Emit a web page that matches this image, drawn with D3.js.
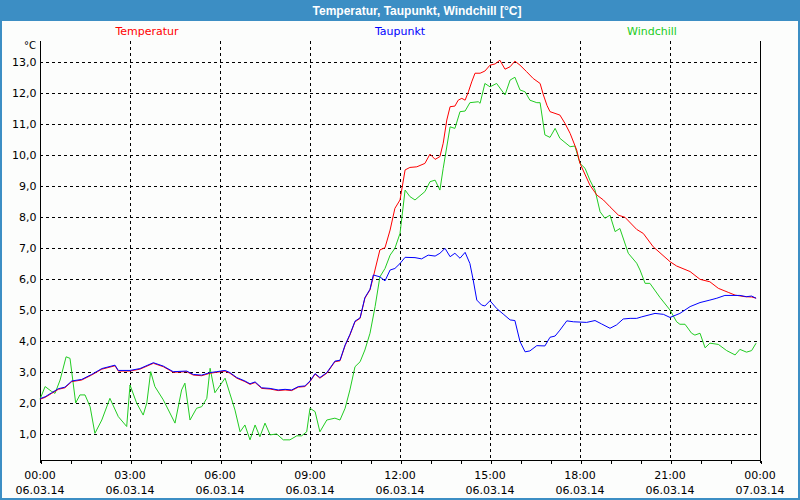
<!DOCTYPE html>
<html><head><meta charset="utf-8">
<script src="https://cdn.jsdelivr.net/npm/d3@7"></script>
<style>body{margin:0;background:#fff}svg{display:block}</style>
</head><body>
<svg id="c" width="800" height="500"></svg>
<script>
const chartTitle = "Temperatur, Taupunkt, Windchill [°C]";
const seriesNames = ["Temperatur", "Taupunkt", "Windchill"];
const seriesColors = ["#ff0000", "#0000ff", "#22cc22"];
const yTicks = [1,2,3,4,5,6,7,8,9,10,11,12,13];
const xTickHours = [0,3,6,9,12,15,18,21,24];

// hours since 06.03.14 00:00
const tempHours = [0,0.17,0.39,0.61,0.83,1.06,1.39,1.72,2.06,2.5,2.61,3,3.33,3.78,4.11,4.44,4.89,5.11,5.39,5.67,5.89,6.17,6.33,6.56,6.83,7,7.17,7.39,7.67,7.94,8.17,8.39,8.61,8.83,9,9.17,9.33,9.56,9.83,10,10.17,10.33,10.5,10.67,10.83,11,
 11.11,11.33,11.5,11.67,11.83,12,12.17,12.33,12.56,12.83,13,13.17,13.33,13.44,13.56,13.67,13.83,13.94,14.06,14.17,14.28,14.39,14.5,14.67,14.83,15,15.17,15.33,15.5,15.67,15.83,16,16.22,16.44,16.67,16.78,16.9,17,17.33,17.5,17.67,17.89,18,18.33,18.56,18.78,19,19.28,19.5,19.89,20.11,20.44,21,21.22,21.67,22,22.33,22.61,22.94,23.17,23.5,23.72,23.87];
const tempValues = [2.12,2.18,2.31,2.44,2.49,2.69,2.74,2.9,3.09,3.2,3.03,3.03,3.09,3.28,3.17,2.99,3.01,2.9,2.88,2.96,2.99,3.03,2.96,2.8,2.69,2.6,2.66,2.47,2.45,2.4,2.42,2.4,2.51,2.53,2.69,2.93,2.8,2.96,3.33,3.36,3.85,4.19,4.62,4.73,5.38,5.65,
 6.07,6.94,7.01,7.58,8.28,8.55,9.52,9.6,9.62,9.73,10.03,9.86,9.95,10.38,11.13,11.56,11.58,11.77,11.83,11.77,12.04,12.36,12.64,12.64,12.71,12.9,12.94,13.06,12.77,12.85,13.03,12.9,12.69,12.47,12.31,11.94,11.6,11.4,11.29,11.02,10.7,10.16,9.73,9.03,8.71,8.55,8.33,8.06,7.99,7.6,7.47,7.04,6.56,6.42,6.24,5.99,5.91,5.7,5.57,5.48,5.43,5.42,5.38];

const dewHours = [0,0.17,0.39,0.61,0.83,1.06,1.39,1.72,2.06,2.5,2.61,3,3.33,3.78,4.11,4.44,4.89,5.11,5.39,5.67,5.89,6.17,6.33,6.56,6.83,7,7.17,7.39,7.67,7.94,8.17,8.39,8.61,8.83,9,9.17,9.33,9.56,9.83,10,10.17,10.33,10.5,10.67,10.83,11,
 11.11,11.33,11.5,11.67,11.83,12,12.17,12.5,12.72,12.94,13.17,13.33,13.5,13.67,13.83,14,14.17,14.33,14.44,14.56,14.72,14.83,15,15.22,15.44,15.67,15.83,16,16.17,16.33,16.56,16.83,17,17.17,17.33,17.56,17.78,18.22,18.5,18.72,19,19.22,19.44,19.67,19.89,20.06,20.5,20.78,21,21.33,21.67,22,22.33,22.56,22.83,23.33,23.55,23.72,23.87];
const dewValues = [2.14,2.2,2.33,2.46,2.51,2.71,2.76,2.92,3.11,3.22,3.05,3.05,3.11,3.3,3.19,3.01,3.03,2.92,2.9,2.98,3.01,3.05,2.98,2.82,2.71,2.62,2.68,2.49,2.47,2.42,2.44,2.42,2.53,2.55,2.71,2.95,2.82,2.98,3.35,3.38,3.87,4.21,4.64,4.75,5.4,5.67,
 6.13,6.07,5.94,6.29,6.34,6.5,6.7,6.69,6.65,6.77,6.74,6.83,6.99,6.72,6.83,6.67,6.86,6.5,5.97,5.32,5.16,5.13,5.3,5.05,4.87,4.68,4.66,3.98,3.65,3.68,3.85,3.84,4.12,4.16,4.35,4.65,4.62,4.6,4.66,4.55,4.41,4.52,4.71,4.73,4.73,4.78,4.89,4.86,4.76,4.89,5.11,5.24,5.32,5.38,5.47,5.47,5.43,5.45,5.38];

const chillHours = [0,0.17,0.39,0.5,0.67,0.87,1,1.19,1.33,1.5,1.67,1.83,2.06,2.33,2.61,2.89,3,3.22,3.44,3.56,3.69,3.83,4.11,4.5,4.72,4.83,5,5.22,5.39,5.56,5.67,5.83,6.17,6.5,6.67,6.83,7,7.17,7.33,7.5,7.67,7.89,8.11,8.33,8.56,8.72,8.89,9,9.17,9.33,9.56,9.83,10,10.17,10.33,10.5,10.67,10.83,11,11.17,11.33,11.5,11.67,11.83,12,12.17,12.33,12.5,12.83,13,13.17,13.33,13.44,13.67,13.83,14,14.17,14.33,14.61,14.67,14.83,15,15.22,15.5,15.67,15.83,16,16.17,16.33,16.56,16.67,16.83,17,17.17,17.33,17.67,17.83,18,18.17,18.33,18.5,18.67,18.83,19,19.17,19.33,19.61,19.89,20,20.17,20.33,20.67,21,21.22,21.33,21.5,21.72,21.83,22,22.17,22.33,22.61,22.89,23.17,23.33,23.55,23.72,23.87];
const chillValues = [2.12,2.53,2.37,2.31,2.74,3.49,3.44,2,2.26,2.26,1.88,1.02,1.45,2.15,1.56,1.24,2.58,2,1.61,2,3.01,2.53,2.1,1.35,2.42,2.64,1.45,1.83,1.88,2.15,3.12,2.33,2.8,1.77,1.07,1.29,0.81,1.29,0.91,1.35,0.97,1,0.81,0.81,0.94,0.94,1.07,1.83,1.72,1.07,1.45,1.51,1.45,1.83,2.42,3.17,3.33,3.71,4.25,5.11,6.07,6.34,6.77,6.99,7.47,8.87,8.66,8.55,8.82,9.14,9.19,8.87,9.57,10.91,10.86,11.4,11.42,11.69,11.72,11.67,12.31,12.2,12.31,11.94,12.42,12.51,12.1,12.04,11.77,11.69,11.69,10.65,10.57,10.86,10.54,10.27,10.29,9.73,9.57,9.19,8.87,8.17,7.96,8.06,7.53,7.63,6.83,6.51,6.29,5.86,5.86,5.4,5,4.62,4.54,4.54,4.25,4.19,4.25,3.78,3.93,3.89,3.69,3.55,3.73,3.64,3.69,3.93];

const svg = d3.select("#c");
const blue = "#3c8ec4";
const font = "Tahoma, 'DejaVu Sans', sans-serif";
const L = 40, R = 760, T = 41, B = 460;
const t0 = new Date(2014, 2, 6, 0, 0);
const hourDate = h => new Date(t0.getTime() + h * 3600000);

const x = d3.scaleTime().domain([t0, hourDate(24)]).range([L, R]);
const y = d3.scaleLinear().domain([0.16, 13.68]).range([B, T]);

svg.append("rect").attr("width", 800).attr("height", 500).attr("fill", blue);
svg.append("rect").attr("x", 2).attr("y", 21).attr("width", 796).attr("height", 477).attr("fill", "#fcfdfc");
svg.append("text").attr("x", 417).attr("y", 15).attr("text-anchor", "middle")
  .attr("fill", "#fff").attr("font-family", "'Liberation Sans', sans-serif").attr("font-weight", "bold")
  .attr("font-size", 12).text(chartTitle);

// grid
const grid = svg.append("g").attr("stroke", "#000").attr("stroke-dasharray", "3,3").attr("shape-rendering", "crispEdges");
grid.selectAll("line.h").data(yTicks).join("line")
  .attr("x1", L).attr("x2", R).attr("y1", d => Math.round(y(d)) + 0.5).attr("y2", d => Math.round(y(d)) + 0.5);
grid.selectAll("line.v").data(xTickHours.slice(1, -1)).join("line")
  .attr("y1", T).attr("y2", B).attr("x1", d => Math.round(x(hourDate(d))) + 0.5).attr("x2", d => Math.round(x(hourDate(d))) + 0.5);

// axes
const yAxis = d3.axisLeft(y).tickValues(yTicks).tickSize(0).tickPadding(4)
  .tickFormat(d => d3.format(".1f")(d).replace(".", ","));
const gy = svg.append("g").attr("transform", `translate(${L + 0.5},0)`).call(yAxis);
gy.select(".domain").remove();
gy.selectAll("text").attr("font-family", font).attr("font-size", 11).attr("fill", "#000");

const xMinor = d3.axisBottom(x).ticks(d3.timeHour.every(1)).tickSize(3).tickFormat("");
const gxm = svg.append("g").attr("transform", `translate(0.5,${B + 0.5})`).call(xMinor);
gxm.select(".domain").remove();
gxm.selectAll("line").attr("shape-rendering", "crispEdges");

const fmtT = d3.timeFormat("%H:%M"), fmtD = d3.timeFormat("%d.%m.%y");
const gx = svg.append("g");
xTickHours.forEach(h => {
  const d = hourDate(h), px = x(d);
  gx.append("text").attr("x", px).attr("y", 479).attr("text-anchor", "middle").attr("font-family", font).attr("font-size", 11).text(fmtT(d));
  gx.append("text").attr("x", px).attr("y", 494).attr("text-anchor", "middle").attr("font-family", font).attr("font-size", 11).text(fmtD(d));
});

const frame = svg.append("g").attr("stroke", "#000").attr("shape-rendering", "crispEdges");
frame.append("line").attr("x1", L + 0.5).attr("x2", L + 0.5).attr("y1", T).attr("y2", B + 3);
frame.append("line").attr("x1", L).attr("x2", R + 1).attr("y1", B + 0.5).attr("y2", B + 0.5);
frame.append("line").attr("x1", R + 0.5).attr("x2", R + 0.5).attr("y1", T).attr("y2", B + 3);

svg.append("text").attr("x", 36).attr("y", 49).attr("text-anchor", "end").attr("font-family", font).attr("font-size", 10).text("°C");

// legend
const legendX = [147, 400, 652];
seriesNames.forEach((n, i) => {
  svg.append("text").attr("x", legendX[i]).attr("y", 35).attr("text-anchor", "middle")
    .attr("font-family", font).attr("font-size", 11).attr("fill", seriesColors[i]).text(n);
});

// lines
const line = d3.line().x(d => x(hourDate(d[0]))).y(d => y(d[1]));
const series = [
  [tempHours, tempValues], [dewHours, dewValues], [chillHours, chillValues]
];
[2, 0, 1].forEach(i => {
  const [hs, vs] = series[i];
  svg.append("path").datum(hs.map((h, k) => [h, vs[k]])).attr("d", line)
    .attr("fill", "none").attr("stroke", seriesColors[i]).attr("stroke-width", 1);
});
</script>
</body></html>
